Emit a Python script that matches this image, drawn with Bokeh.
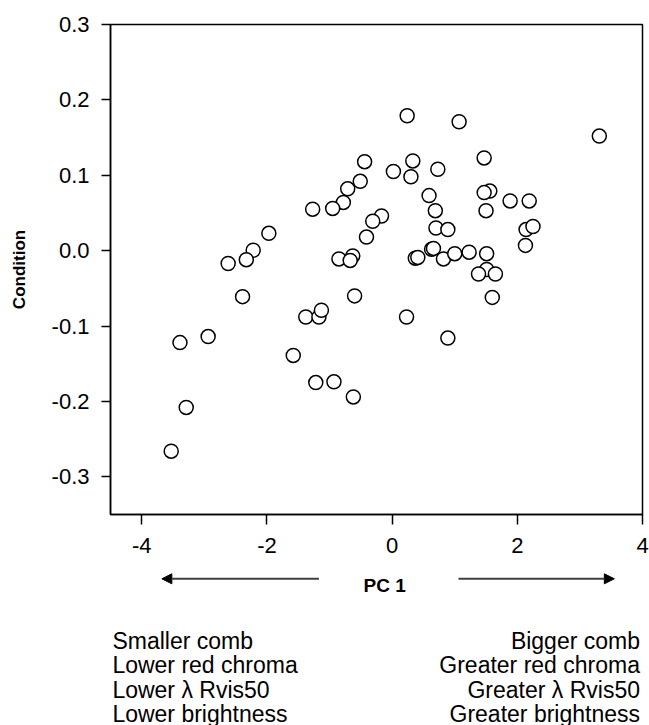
from bokeh.plotting import figure
from bokeh.layouts import column
from bokeh.models import Range1d, FixedTicker, NumeralTickFormatter, Arrow, NormalHead
from bokeh.core.properties import value
from bokeh.embed import file_html
from bokeh.resources import INLINE

# ---- data ----
pc1 = [0.24, 1.07, 3.31, -0.44, 0.02, 0.33, 0.30, 0.73, 1.47, -0.51,
       -0.71, -0.78, -0.95, -1.27, -0.17, -0.31, -0.41, 0.59, 0.69, 0.70,
       0.89, 1.56, 1.47, 1.50, 1.885, 2.19, 2.14, 2.25, 2.13, -0.85,
       -0.63, -0.67, 0.37, 0.41, 0.63, 0.66, 0.82, 1.00, 1.23, 1.51,
       1.51, 1.38, 1.65, 1.60, 0.89, 0.23, -0.60, -1.38, -1.17, -1.13,
       -1.22, -0.93, -0.62, -1.97, -2.22, -2.33, -2.62, -2.39, -2.94, -3.39,
       -1.58, -3.29, -3.53]
condition = [0.179, 0.171, 0.152, 0.118, 0.105, 0.119, 0.098, 0.108, 0.123, 0.092,
             0.082, 0.064, 0.056, 0.055, 0.046, 0.039, 0.018, 0.073, 0.053, 0.030,
             0.028, 0.079, 0.077, 0.053, 0.066, 0.066, 0.028, 0.032, 0.007, -0.011,
             -0.007, -0.013, -0.010, -0.009, 0.002, 0.003, -0.011, -0.004, -0.002, -0.004,
             -0.025, -0.031, -0.031, -0.062, -0.116, -0.088, -0.060, -0.088, -0.088, -0.079,
             -0.175, -0.174, -0.194, 0.023, 0.0005, -0.012, -0.017, -0.061, -0.114, -0.122,
             -0.139, -0.208, -0.266]
x_ticks = [-4, -2, 0, 2, 4]
y_ticks = [-0.3, -0.2, -0.1, 0.0, 0.1, 0.2, 0.3]
x_label = "PC 1"
y_label = "Condition"
left_notes = ["Smaller comb", "Lower red chroma", "Lower \u03bb Rvis50", "Lower brightness"]
right_notes = ["Bigger comb", "Greater red chroma", "Greater \u03bb Rvis50", "Greater brightness"]

FONT = "Liberation Sans"

# ---- main scatter ----
p1 = figure(width=649, height=570, x_range=Range1d(-4.5, 4), y_range=Range1d(-0.35, 0.3),
            output_backend="svg", toolbar_location=None,
            min_border_left=110, min_border_right=7, min_border_top=24, min_border_bottom=56)
p1.grid.visible = False
p1.outline_line_color = "black"
p1.outline_line_width = 1.5
p1.outline_line_alpha = 1.0
p1.background_fill_color = "white"
p1.border_fill_color = "white"

p1.scatter(pc1, condition, marker="circle", size=14, fill_color="white",
           line_color="black", line_width=1.5)

for ax in (p1.xaxis[0], p1.yaxis[0]):
    ax.axis_line_width = 1.5
    ax.axis_line_color = "black"
    ax.major_tick_line_width = 1.5
    ax.major_tick_line_color = "black"
    ax.major_tick_in = 0
    ax.minor_tick_line_color = None
    ax.major_label_text_font = FONT
    ax.major_label_text_font_size = "22px"
    ax.major_label_text_color = "black"

p1.xaxis.ticker = FixedTicker(ticks=x_ticks)
p1.xaxis.formatter = NumeralTickFormatter(format="0")
p1.xaxis.major_tick_out = 10
p1.xaxis.major_label_standoff = 13

p1.yaxis.ticker = FixedTicker(ticks=y_ticks)
p1.yaxis.formatter = NumeralTickFormatter(format="0.0")
p1.yaxis.major_tick_out = 9
p1.yaxis.major_label_standoff = 12
p1.yaxis.axis_label = y_label
p1.yaxis.axis_label_text_font = FONT
p1.yaxis.axis_label_text_font_style = "bold"
p1.yaxis.axis_label_text_font_size = "17px"
p1.yaxis.axis_label_text_color = "black"
p1.yaxis.axis_label_standoff = 20

# ---- annotation strip below ----
p2 = figure(width=649, height=155, x_range=p1.x_range, y_range=Range1d(155, 0),
            output_backend="svg", toolbar_location=None,
            x_axis_location=None, y_axis_location=None,
            min_border_left=110, min_border_right=7, min_border_top=0, min_border_bottom=0)
p2.grid.visible = False
p2.outline_line_color = None
p2.background_fill_color = "white"
p2.border_fill_color = "white"

p2.add_layout(Arrow(end=NormalHead(size=10, fill_color="black", line_color="black"),
                    x_start=-1.17, y_start=8.3, x_end=-3.68, y_end=8.3,
                    line_color="#404040", line_width=2))
p2.add_layout(Arrow(end=NormalHead(size=10, fill_color="black", line_color="black"),
                    x_start=1.06, y_start=8.3, x_end=3.55, y_end=8.3,
                    line_color="#404040", line_width=2))

p2.text(x=[-0.12], y=[15], text=[x_label], text_font=value(FONT), text_font_style="bold",
        text_font_size="19px", text_align="center", text_baseline="middle", text_color="black")

line_y = [70, 94.3, 119, 143]
p2.text(x=[-4.47] * len(left_notes), y=line_y, text=left_notes, text_font=value(FONT),
        text_font_size="23px", text_align="left", text_baseline="alphabetic", text_color="black")
p2.text(x=[3.96] * len(right_notes), y=line_y, text=right_notes, text_font=value(FONT),
        text_font_size="23px", text_align="right", text_baseline="alphabetic", text_color="black")

layout = column(p1, p2, spacing=0)
open("out.html", "w").write(file_html(layout, INLINE))
